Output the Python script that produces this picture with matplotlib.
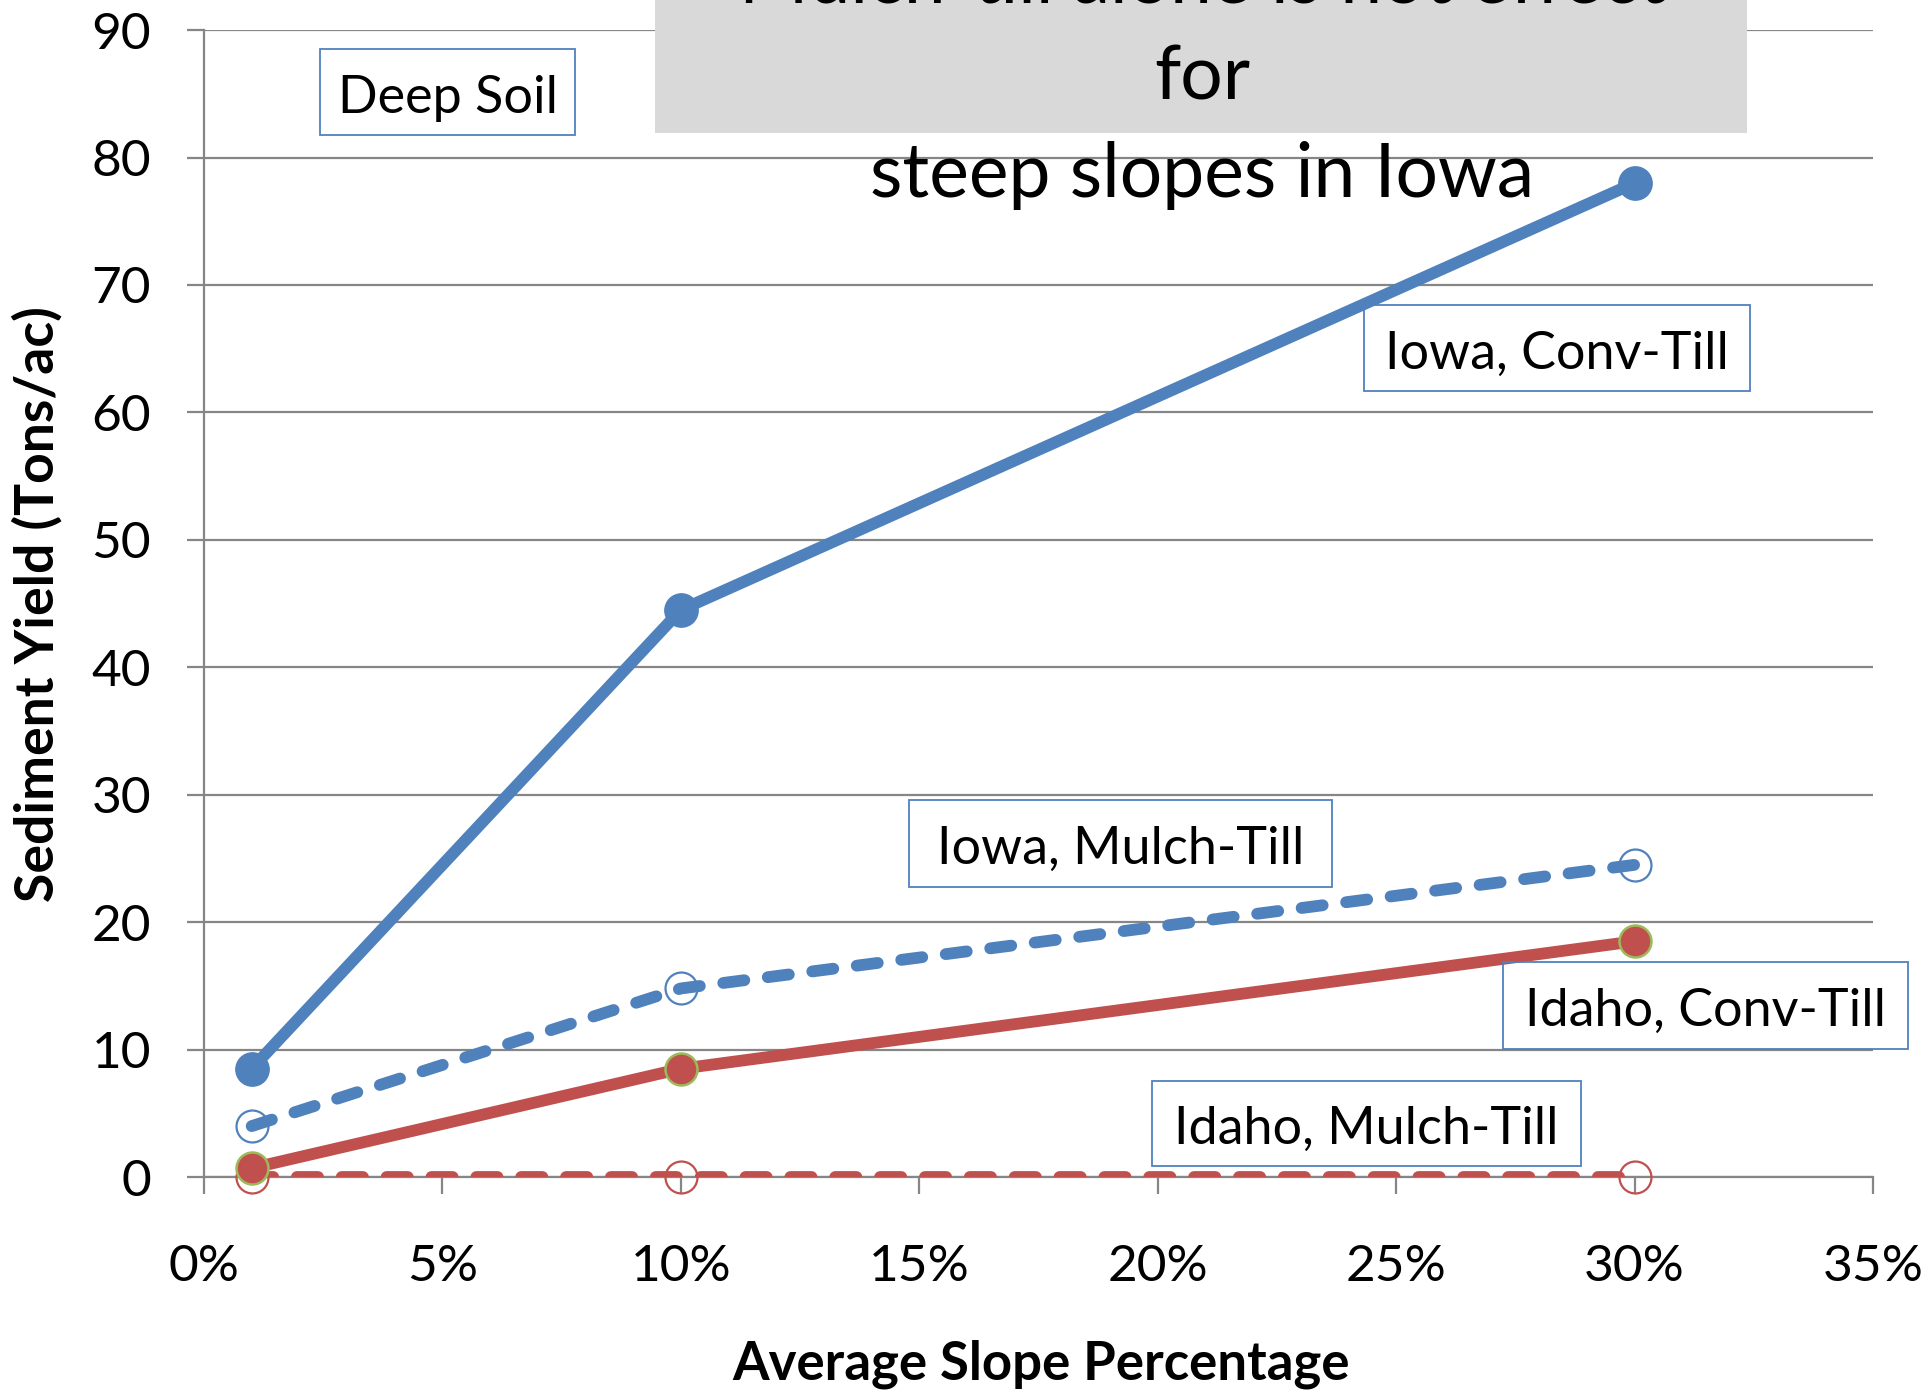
import numpy as np
import matplotlib.pyplot as plt
from matplotlib.patches import Rectangle
from matplotlib.ticker import FuncFormatter

plt.rcParams['font.family'] = ['Lato', 'DejaVu Sans']

slope = [0.01, 0.10, 0.30]
iowa_conv = [8.5, 44.5, 78.0]
iowa_mulch = [4.0, 14.8, 24.5]
idaho_conv = [0.7, 8.5, 18.5]
idaho_mulch = [0.0, 0.0, 0.0]

x_ticks = [0, 0.05, 0.10, 0.15, 0.20, 0.25, 0.30, 0.35]
y_ticks = [0, 10, 20, 30, 40, 50, 60, 70, 80, 90]

blue = '#4F81BD'
red = '#C0504D'
green = '#9BBB59'
grey = '#868686'

fig = plt.figure(figsize=(19.28, 13.92), dpi=100)
ax = fig.add_axes([0.1058, 0.1544, 0.8657, 0.824])

ax.set_xlim(0, 0.35)
ax.set_ylim(0, 90)
ax.set_xticks(x_ticks)
ax.set_yticks(y_ticks)
ax.xaxis.set_major_formatter(FuncFormatter(lambda v, p: f'{v*100:.0f}%'))

ax.grid(axis='y', color=grey, linewidth=1.6)
ax.set_axisbelow(True)
for s in ['top', 'right']:
    ax.spines[s].set_visible(False)
for s in ['left', 'bottom']:
    ax.spines[s].set_color(grey)
    ax.spines[s].set_linewidth(1.6)
ax.tick_params(axis='both', direction='out', length=12, width=1.6, color=grey,
               labelsize=37)
ax.tick_params(axis='x', pad=36)
ax.tick_params(axis='y', pad=26)

lw = 8.5

# Iowa, Conv-Till
ax.plot(slope, iowa_conv, color=blue, lw=lw, solid_capstyle='round', zorder=3)
ax.plot(slope, iowa_conv, 'o', color=blue, ms=24, mec=blue, zorder=4, clip_on=False)

# Iowa, Mulch-Till
ax.plot(slope, iowa_mulch, color=blue, lw=lw, dashes=(1.8, 2.0),
        dash_capstyle='round', zorder=3)
ax.plot(slope, iowa_mulch, 'o', mfc='none', mec=blue, mew=1.6, ms=23, zorder=4,
        clip_on=False)

# Idaho, Mulch-Till
ax.plot(slope, idaho_mulch, color=red, lw=lw, dashes=(1.8, 2.0),
        dash_capstyle='round', zorder=3)
ax.plot(slope, idaho_mulch, 'o', mfc='none', mec=red, mew=1.6, ms=23, zorder=4,
        clip_on=False)

# Idaho, Conv-Till
ax.plot(slope, idaho_conv, color=red, lw=lw, solid_capstyle='round', zorder=3)
ax.plot(slope, idaho_conv, 'o', color=red, ms=23, mec=green, mew=1.8, zorder=5,
        clip_on=False)

ax.set_ylabel('Sediment Yield (Tons/ac)', fontsize=38.5, fontweight='bold')
ax.set_xlabel('Average Slope Percentage', fontsize=38, fontweight='bold', va='center')
ax.yaxis.set_label_coords(-0.085, 0.5)
ax.xaxis.set_label_coords(0.5015, -0.163)

W, H = 1928, 1392


def label_box(x0, y0, x1, y1, text):
    # box coords in figure pixels (top-left origin)
    fig.patches.append(Rectangle((x0 / W, 1 - y1 / H), (x1 - x0) / W, (y1 - y0) / H,
                                 transform=fig.transFigure, fill=False,
                                 edgecolor=blue, linewidth=1.3, zorder=6))
    fig.text((x0 + x1) / 2 / W, 1 - ((y0 + y1) / 2 + 6) / H, text, fontsize=37.5,
             ha='center', va='center', zorder=7)


label_box(320, 49, 575, 135, 'Deep Soil')
label_box(1364, 305, 1750, 391, 'Iowa, Conv-Till')
label_box(909, 800, 1332, 887, 'Iowa, Mulch-Till')
label_box(1503, 962, 1908, 1049, 'Idaho, Conv-Till')
label_box(1152, 1081, 1581, 1166, 'Idaho, Mulch-Till')

# title box, partly off the top of the slide
fig.patches.append(Rectangle((655 / W, 1 - 133 / H), (1747 - 655) / W, 133 / H,
                             transform=fig.transFigure, facecolor='#D9D9D9',
                             edgecolor='none', zorder=6))
fig.text(1202 / W, 1 - 78 / H,
         'Mulch-till alone is not effect\nfor\nsteep slopes in Iowa',
         fontsize=54, ha='center', va='center', linespacing=1.5, zorder=7)

fig.savefig('out.png', dpi=100)
